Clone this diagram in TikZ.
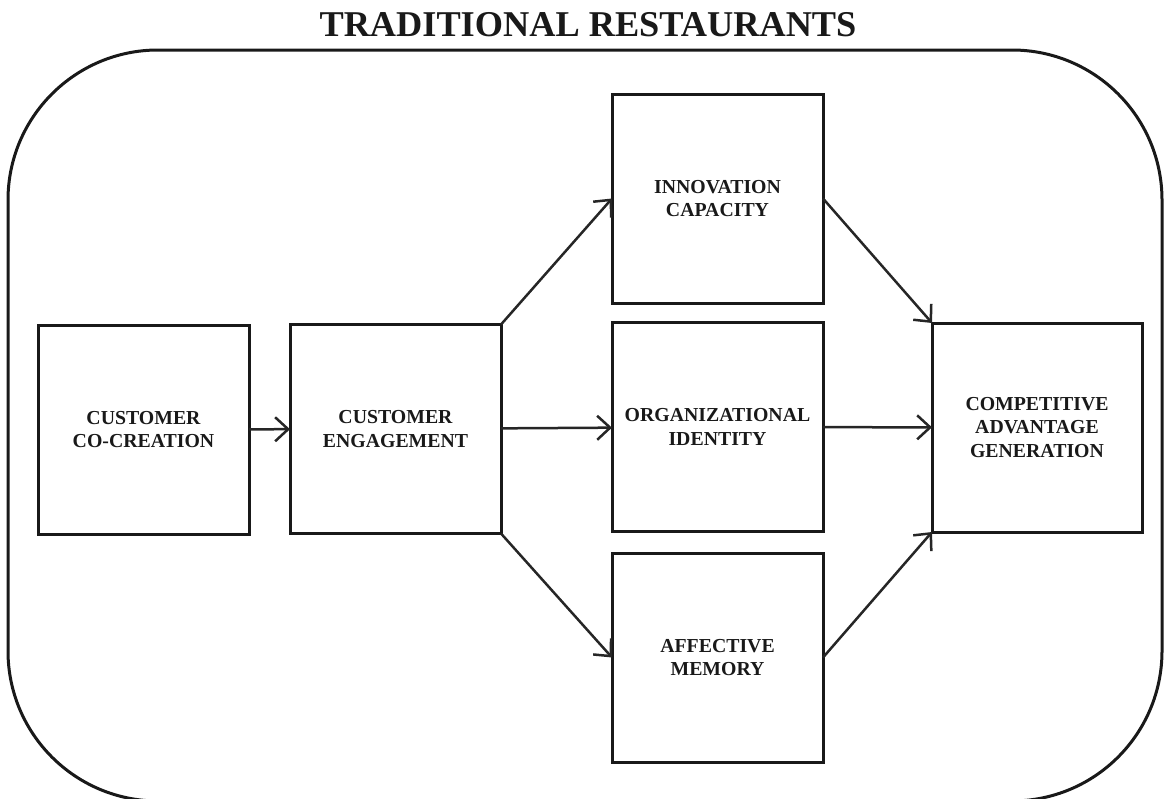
\documentclass[tikz,border=0pt]{standalone}
\usepackage{fontspec}
\setmainfont{Liberation Serif}
\usepackage{tikz}
\usetikzlibrary{arrows.meta}
\tikzstyle{box}=[draw=black!90,line width=3pt,minimum width=211pt,
                minimum height=209pt,inner sep=0,outer sep=0,align=center,
                font=\fontsize{19.8}{23.5}\selectfont\bfseries,text=black!90]
\tikzstyle{link}=[color=black!85,line width=2.5pt,
                -{Straight Barb[length=13pt,width=24pt]}]

\begin{document}
\begin{tikzpicture}[x=1pt,y=-1pt]
\path[use as bounding box] (0,0) rectangle (1166,798);
\node[font=\fontsize{36.3}{40}\selectfont\bfseries,text=black!90] (title) at (588,25) {TRADITIONAL RESTAURANTS};
\draw[draw=black!90,line width=3pt,rounded corners=150pt] (8,50) rectangle (1162,801);
\node[box] (cocreation) at (143.5,429.5) {CUSTOMER\\CO-CREATION};
\node[box] (engagement) at (395.5,429) {CUSTOMER\\ENGAGEMENT};
\node[box] (innovation) at (717.5,198.5) {INNOVATION\\CAPACITY};
\node[box] (identity) at (717.5,427) {ORGANIZATIONAL\\IDENTITY};
\node[box] (memory) at (717.5,657.5) {AFFECTIVE\\MEMORY};
\node[box, minimum width=210pt] (advantage) at (1037,427.5) {COMPETITIVE\\ADVANTAGE\\GENERATION};
\path[link]
  (cocreation) edge (engagement)
  (engagement.north east) edge (innovation.west)
  (engagement) edge (identity)
  (engagement.south east) edge (memory.west)
  (innovation.east) edge (advantage.north west)
  (identity) edge (advantage)
  (memory.east) edge (advantage.south west);
\end{tikzpicture}
\end{document}
